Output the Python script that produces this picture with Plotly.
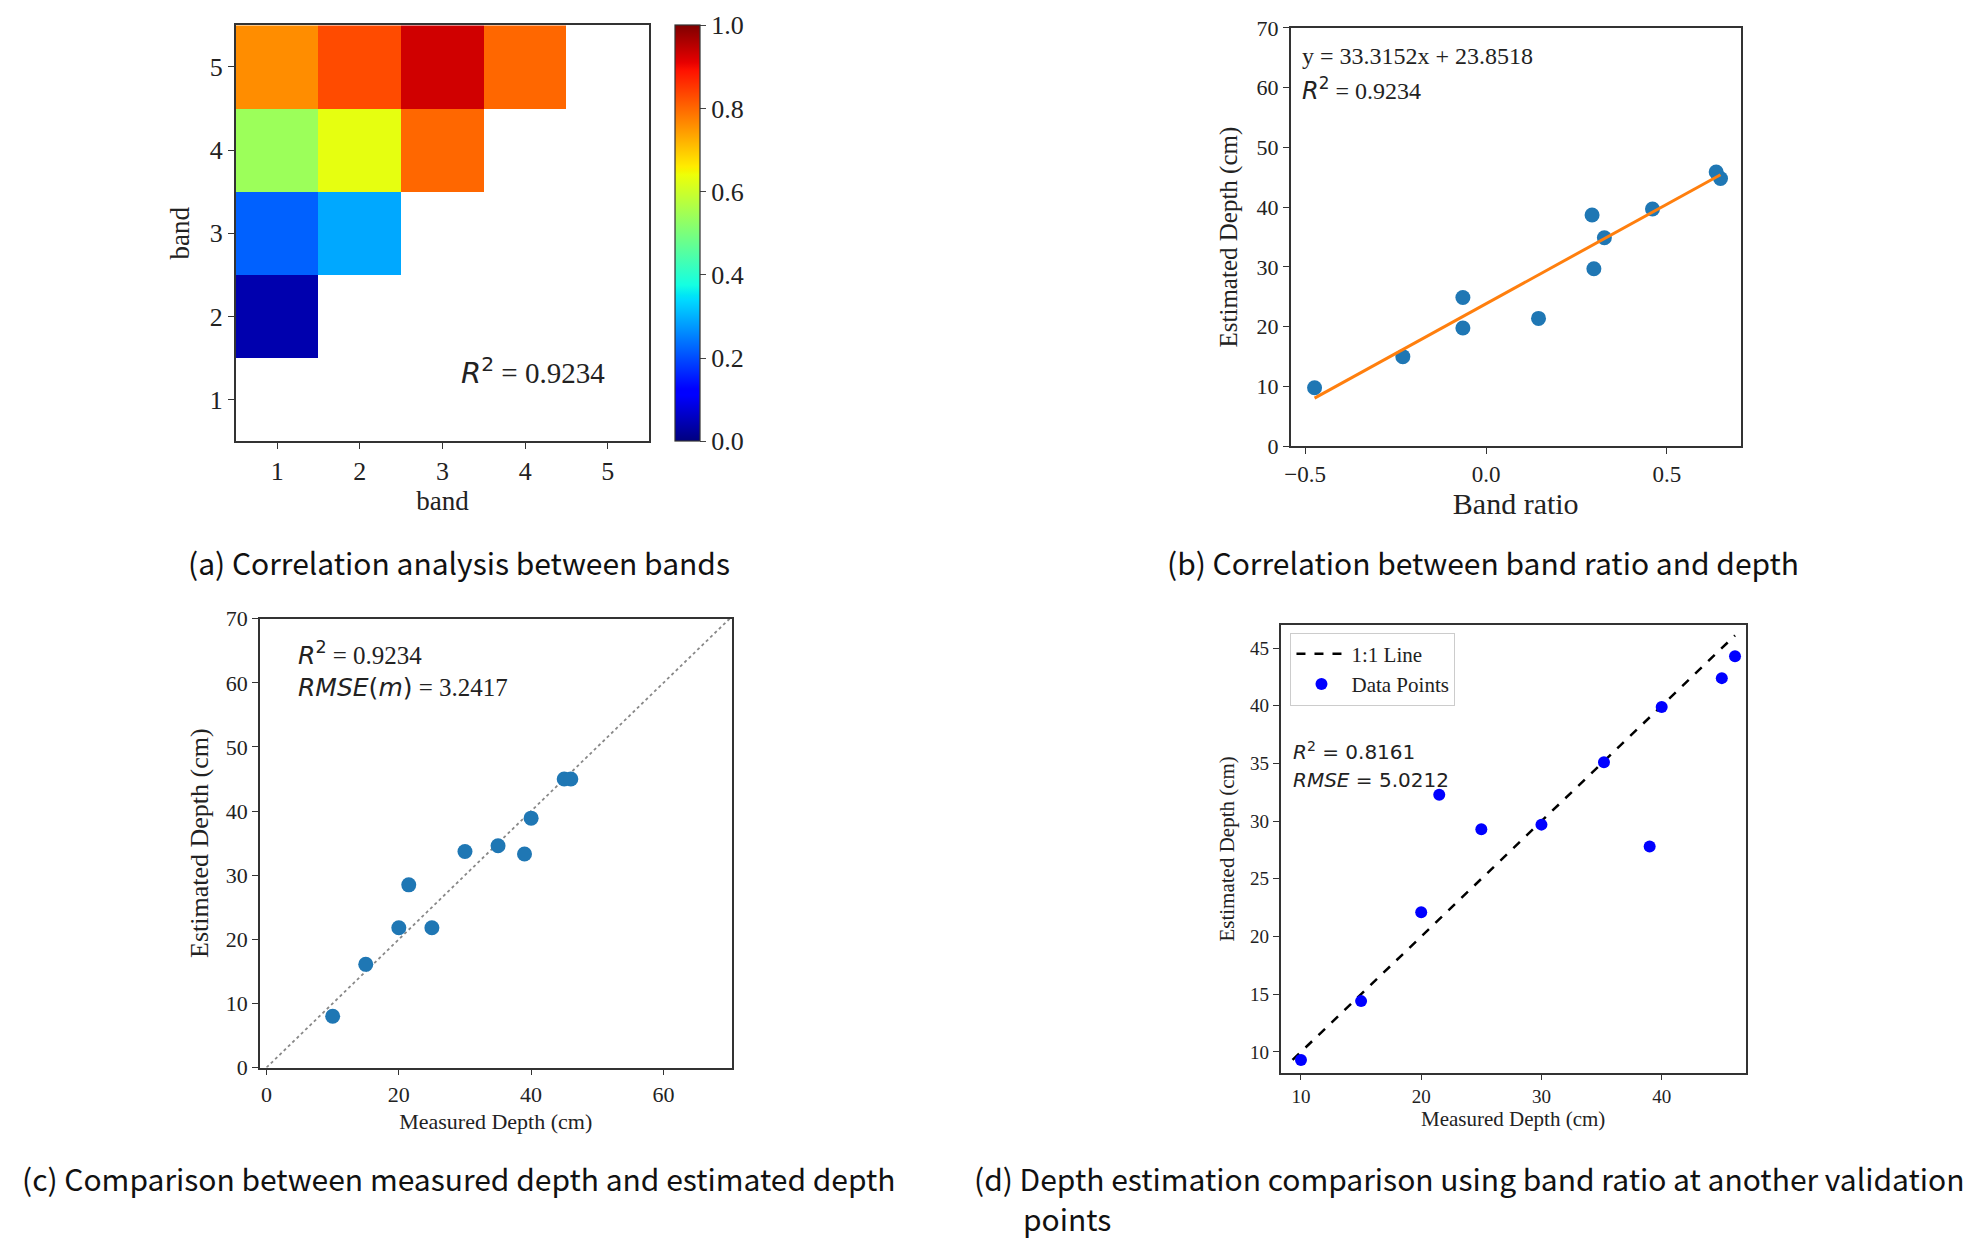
import numpy as np
import plotly.graph_objects as go

# (a) band correlation matrix (rows = band 1..5 on y, cols = band 1..5 on x)
bands = [1, 2, 3, 4, 5]
corr_row1 = [None, None, None, None, None]
corr_row2 = [0.04, None, None, None, None]
corr_row3 = [0.22, 0.29, None, None, None]
corr_row4 = [0.54, 0.63, 0.80, None, None]
corr_row5 = [0.76, 0.83, 0.93, 0.80, None]

# (b) band ratio vs depth
band_ratio = [-0.474, -0.23, -0.064, -0.064, 0.145, 0.293, 0.298, 0.327, 0.460, 0.636, 0.648]
depth_b = [9.8, 15.0, 24.9, 19.8, 21.4, 38.7, 29.7, 34.9, 39.7, 45.9, 44.8]
fit_slope = 33.3152
fit_intercept = 23.8518

# (c) measured vs estimated
measured_c = [10, 15, 20, 21.5, 25, 30, 35, 39, 40, 45, 46]
estimated_c = [8.0, 16.1, 21.8, 28.5, 21.8, 33.7, 34.6, 33.3, 38.9, 45.0, 45.0]

# (d) other validation points
measured_d = [10, 15, 20, 21.5, 25, 30, 35.2, 39, 40, 45, 46.1]
estimated_d = [9.3, 14.4, 22.1, 32.3, 29.3, 29.7, 35.1, 27.8, 39.9, 42.4, 44.3]

W, H = 1988, 1240
SERIF = "Liberation Serif"
SANS = "DejaVu Sans"
CAP = "Noto Sans CJK KR"
OFF = 8  # page body margin in px


def mpl_jet():
    # matplotlib jet segment data
    red = [(0, 0), (0.35, 0), (0.66, 1), (0.89, 1), (1, 0.5)]
    green = [(0, 0), (0.125, 0), (0.375, 1), (0.64, 1), (0.91, 0), (1, 0)]
    blue = [(0, 0.5), (0.11, 1), (0.34, 1), (0.65, 0), (1, 0)]
    stops = sorted(set([p[0] for p in red + green + blue]))
    out = []
    for s in stops:
        r = np.interp(s, *zip(*red))
        g = np.interp(s, *zip(*green))
        b = np.interp(s, *zip(*blue))
        out.append([s, f"rgb({int(r*255)},{int(g*255)},{int(b*255)})"])
    return out


def px(x):
    return (x * W / 1568 - OFF) / W


def py(y):
    return 1 - (y * H / 978 - OFF) / H


def dom(x0, x1, y0, y1):
    return [px(x0), px(x1)], [py(y1), py(y0)]


xa, ya = dom(186, 512, 20, 348)
xb, yb = dom(1018, 1373, 22, 352)
xc, yc = dom(205, 577, 488, 842)
xd, yd = dom(1010, 1377, 493, 846)

fig = go.Figure()

fig.add_trace(go.Heatmap(
    x=bands, y=bands,
    z=[corr_row1, corr_row2, corr_row3, corr_row4, corr_row5],
    colorscale=mpl_jet(), zmin=0, zmax=1, hoverongaps=False,
    xaxis="x", yaxis="y",
    colorbar=dict(x=px(532), xanchor="left", xpad=0, ypad=0, thickness=25,
                  y=(ya[0] + ya[1]) / 2, yanchor="middle", len=ya[1] - ya[0],
                  outlinewidth=1.2, outlinecolor="#333", ticks="outside", ticklen=6,
                  tickvals=[0, 0.2, 0.4, 0.6, 0.8, 1.0], tickformat=".1f",
                  tickfont=dict(family=SERIF, size=26, color="#222")),
))

x_line = np.array([min(band_ratio), max(band_ratio)])
fig.add_trace(go.Scatter(x=band_ratio, y=depth_b, mode="markers", xaxis="x2", yaxis="y2",
                         marker=dict(color="#1f77b4", size=15), showlegend=False))
fig.add_trace(go.Scatter(x=x_line, y=fit_slope * x_line + fit_intercept, mode="lines",
                         xaxis="x2", yaxis="y2", line=dict(color="#ff7f0e", width=3),
                         showlegend=False))

fig.add_trace(go.Scatter(x=[0, 70], y=[0, 70], mode="lines", xaxis="x3", yaxis="y3",
                         line=dict(color="#888", width=1.8, dash="dot"), showlegend=False))
fig.add_trace(go.Scatter(x=measured_c, y=estimated_c, mode="markers", xaxis="x3", yaxis="y3",
                         marker=dict(color="#1f77b4", size=15), showlegend=False))

lo = min(measured_d + estimated_d)
hi = max(measured_d + estimated_d)
fig.add_trace(go.Scatter(x=[lo, hi], y=[lo, hi], mode="lines", xaxis="x4", yaxis="y4",
                         name="1:1 Line", line=dict(color="black", width=2.5, dash="dash")))
fig.add_trace(go.Scatter(x=measured_d, y=estimated_d, mode="markers", xaxis="x4", yaxis="y4",
                         name="Data Points", marker=dict(color="blue", size=12)))


def ax(domain, anchor, rng, tickvals, tsize, title="", title_size=22, standoff=8, fmt=None):
    d = dict(domain=domain, anchor=anchor, range=rng, tickvals=tickvals,
             showline=True, mirror=True, linecolor="#333", linewidth=1.5,
             ticks="outside", ticklen=6, tickwidth=1.3, tickcolor="#333",
             showgrid=False, zeroline=False, automargin=False,
             tickfont=dict(family=SERIF, size=tsize, color="#222"),
             title=dict(text=title, font=dict(family=SERIF, size=title_size, color="#222"),
                        standoff=standoff))
    if fmt:
        d["tickformat"] = fmt
    return d


fig.update_layout(
    width=W, height=H, margin=dict(l=0, r=0, t=0, b=0),
    paper_bgcolor="white", plot_bgcolor="white",
    xaxis=ax(xa, "y", [0.5, 5.5], bands, 26, "band", 27, 4),
    yaxis=ax(ya, "x", [0.5, 5.5], bands, 26, "band", 27, 12),
    xaxis2=ax(xb, "y2", [-0.54, 0.704], [-0.5, 0, 0.5], 23, "Band ratio", 30, 6, ".1f"),
    yaxis2=ax(yb, "x2", [0, 70], list(range(0, 71, 10)), 22, "Estimated Depth (cm)", 25, 12),
    xaxis3=ax(xc, "y3", [-1, 70.3], [0, 20, 40, 60], 22, "Measured Depth (cm)", 22, 8),
    yaxis3=ax(yc, "x3", [0, 70], list(range(0, 71, 10)), 22, "Estimated Depth (cm)", 26, 10),
    xaxis4=ax(xd, "y4", [8.3, 47.0], [10, 20, 30, 40], 19, "Measured Depth (cm)", 21, 2),
    yaxis4=ax(yd, "x4", [8.2, 47.0], [10, 15, 20, 25, 30, 35, 40, 45], 19,
              "Estimated Depth (cm)", 21, 10),
    legend=dict(x=xd[0] + 0.005, y=yd[1] - 0.006, xanchor="left", yanchor="top",
                bgcolor="white", bordercolor="#ccc", borderwidth=1, itemwidth=50,
                font=dict(family=SERIF, size=21, color="#222")),
)

R2 = f'<span style="font-family:{SANS}"><i>R</i><sup>2</sup></span>'
notes = [
    ("x", "y", 3.2, 1.35, R2 + " = 0.9234", 29),
    ("x2", "y2", -0.515, 65.3, "y = 33.3152x + 23.8518", 24),
    ("x2", "y2", -0.515, 59.8, R2 + " = 0.9234", 24),
    ("x3", "y3", 4.5, 64.6, R2 + " = 0.9234", 25),
    ("x3", "y3", 4.5, 59.3,
     f'<span style="font-family:{SANS}"><i>RMSE</i>(<i>m</i>)</span> = 3.2417', 25),
]
for xr, yr, x, y, t, s in notes:
    fig.add_annotation(xref=xr, yref=yr, x=x, y=y, text=t, showarrow=False,
                       xanchor="left", yanchor="middle",
                       font=dict(family=SERIF, size=s, color="#222"))

for y, t in [(36.1, "<i>R</i><sup>2</sup> = 0.8161"), (33.6, "<i>RMSE</i> = 5.0212")]:
    fig.add_annotation(xref="x4", yref="y4", x=9.2, y=y, text=t, showarrow=False,
                       xanchor="left", yanchor="middle",
                       font=dict(family=SANS, size=20, color="#222"))

captions = [
    (px(362), py(443), "center", "(a) Correlation analysis between bands"),
    (px(1170), py(443), "center", "(b) Correlation between band ratio and depth"),
    (px(362), py(929), "center", "(c) Comparison between measured depth and estimated depth"),
    (px(767), py(929), "left",
     "(d) Depth estimation comparison using band ratio at another validation"),
    (px(805), py(961), "left", "points"),
]
for x, y, anc, t in captions:
    fig.add_annotation(xref="paper", yref="paper", x=x, y=y, text=t, showarrow=False,
                       xanchor=anc, yanchor="middle",
                       font=dict(family=CAP, size=30, color="#111"))

fig.write_html("out.html")
